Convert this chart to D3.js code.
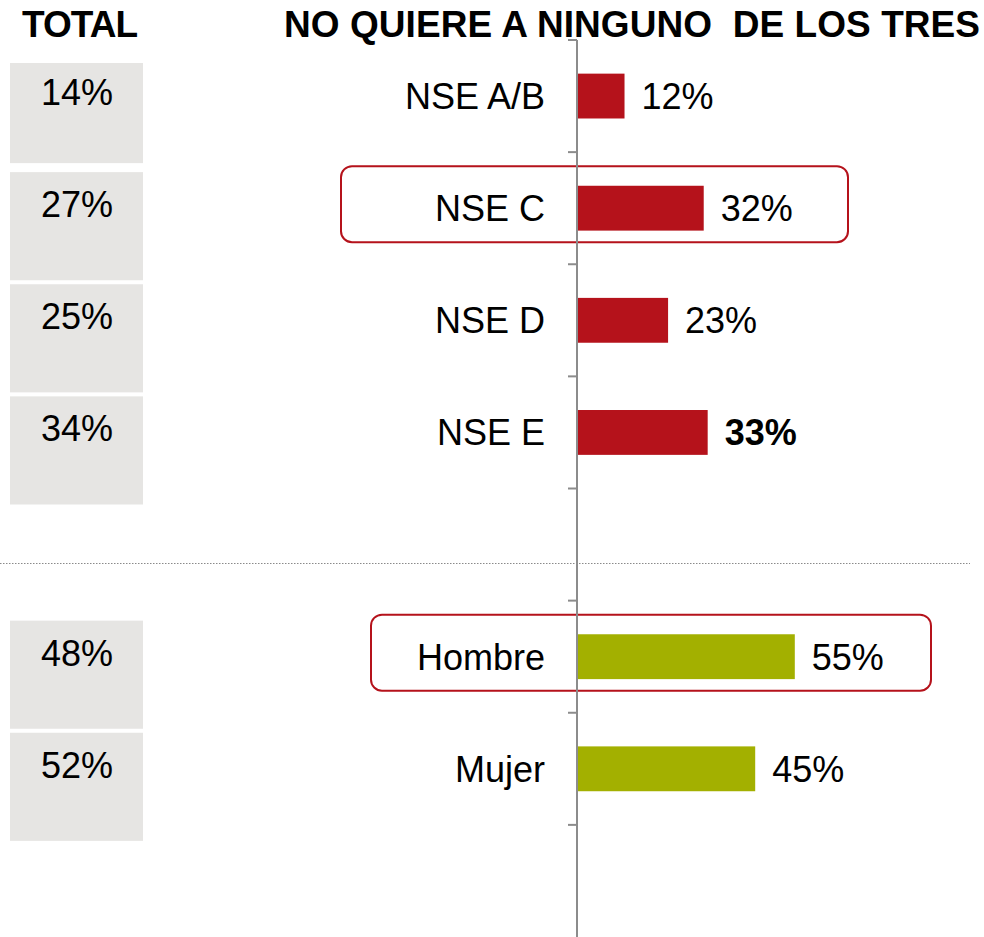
<!DOCTYPE html>
<html><head><meta charset="utf-8">
<script src="https://cdn.jsdelivr.net/npm/d3@7"></script>
<style>body{margin:0;background:#fff}svg{display:block}text{font-family:"Liberation Sans",Arial,sans-serif}</style>
</head><body><svg id="c" width="984" height="937"></svg>
<script>
const categories = ["NSE A/B","NSE C","NSE D","NSE E","_gap1","Hombre","Mujer","_gap2"];
const values = [12,32,23,33,null,55,45,null];
const totals = ["14%","27%","25%","34%",null,"48%","52%",null];
const groups = ["nse","nse","nse","nse",null,"sex","sex",null];
const highlighted = ["NSE C","Hombre"];
const boldValues = ["NSE E"];
const titleLeft = "TOTAL";
const titleRight = "NO QUIERE A NINGUNO\u00a0 DE LOS TRES";

const svg = d3.select("#c");
const colors = {nse:"#b5121b", sex:"#a3b000"};
const axisX = 577;
const x = d3.scaleLinear().domain([0,100]).range([axisX, axisX+396]);
const y = d3.scaleBand().domain(categories).range([40,937]).paddingInner(0.6).paddingOuter(0.3);
const yb = d3.scaleBand().domain(categories).range([40,937]);
const step = yb.step();

// titles
svg.append("text").attr("x",80).attr("y",37).attr("text-anchor","middle")
  .attr("font-size",37).attr("font-weight","bold").attr("textLength",116).text(titleLeft);
svg.append("text").attr("x",284).attr("y",37)
  .attr("font-size",37).attr("font-weight","bold").attr("textLength",696).text(titleRight);

// gray total boxes
categories.forEach((c,i)=>{
  if(totals[i]==null) return;
  let top = yb(c)+20;
  let h = step-4;
  if(i===0){ top += 3; h -= 8; }
  svg.append("rect").attr("x",10).attr("y",top).attr("width",133).attr("height",h).attr("fill","#e6e5e3");
  svg.append("text").attr("x",77).attr("y",yb(c)+20+45).attr("text-anchor","middle")
    .attr("font-size",36).attr("fill","#000").text(totals[i]);
});

// separator
svg.append("line").attr("x1",0).attr("x2",970).attr("y1",563.5).attr("y2",563.5)
  .attr("stroke","#8a8a8a").attr("stroke-width",1).attr("stroke-dasharray","1.5,1.5");

// highlight boxes
const hl = {"NSE C":[341,848],"Hombre":[371,931]};
highlighted.forEach(c=>{
  const cy = yb(c)+step/2;
  svg.append("rect").attr("x",hl[c][0]).attr("y",cy-42).attr("width",hl[c][1]-hl[c][0]).attr("height",76)
    .attr("rx",11).attr("fill","none").attr("stroke","#b5121b").attr("stroke-width",2);
});

// bars
categories.forEach((c,i)=>{
  if(values[i]==null) return;
  svg.append("rect").attr("x",x(0)).attr("y",y(c)).attr("width",x(values[i])-x(0)).attr("height",y.bandwidth())
    .attr("fill",colors[groups[i]]);
  const cy = y(c)+y.bandwidth()/2;
  svg.append("text").attr("x",x(values[i])+17).attr("y",cy+13).attr("font-size",36)
    .attr("font-weight",boldValues.includes(c)?"bold":"normal").text(values[i]+"%");
  svg.append("text").attr("x",545).attr("y",cy+13).attr("text-anchor","end").attr("font-size",36)
    .text(c);
});

// axis
const ag = svg.append("g").attr("transform",`translate(${axisX},0)`);
ag.append("line").attr("x1",0).attr("x2",0).attr("y1",40).attr("y2",937).attr("stroke","#8c8c8c").attr("stroke-width",2);
const tickYs = categories.map(c=>yb(c));
ag.selectAll("line.t").data(tickYs).join("line").attr("class","t")
  .attr("x1",-9).attr("x2",0).attr("y1",d=>d).attr("y2",d=>d).attr("stroke","#8c8c8c").attr("stroke-width",2);
</script></body></html>
